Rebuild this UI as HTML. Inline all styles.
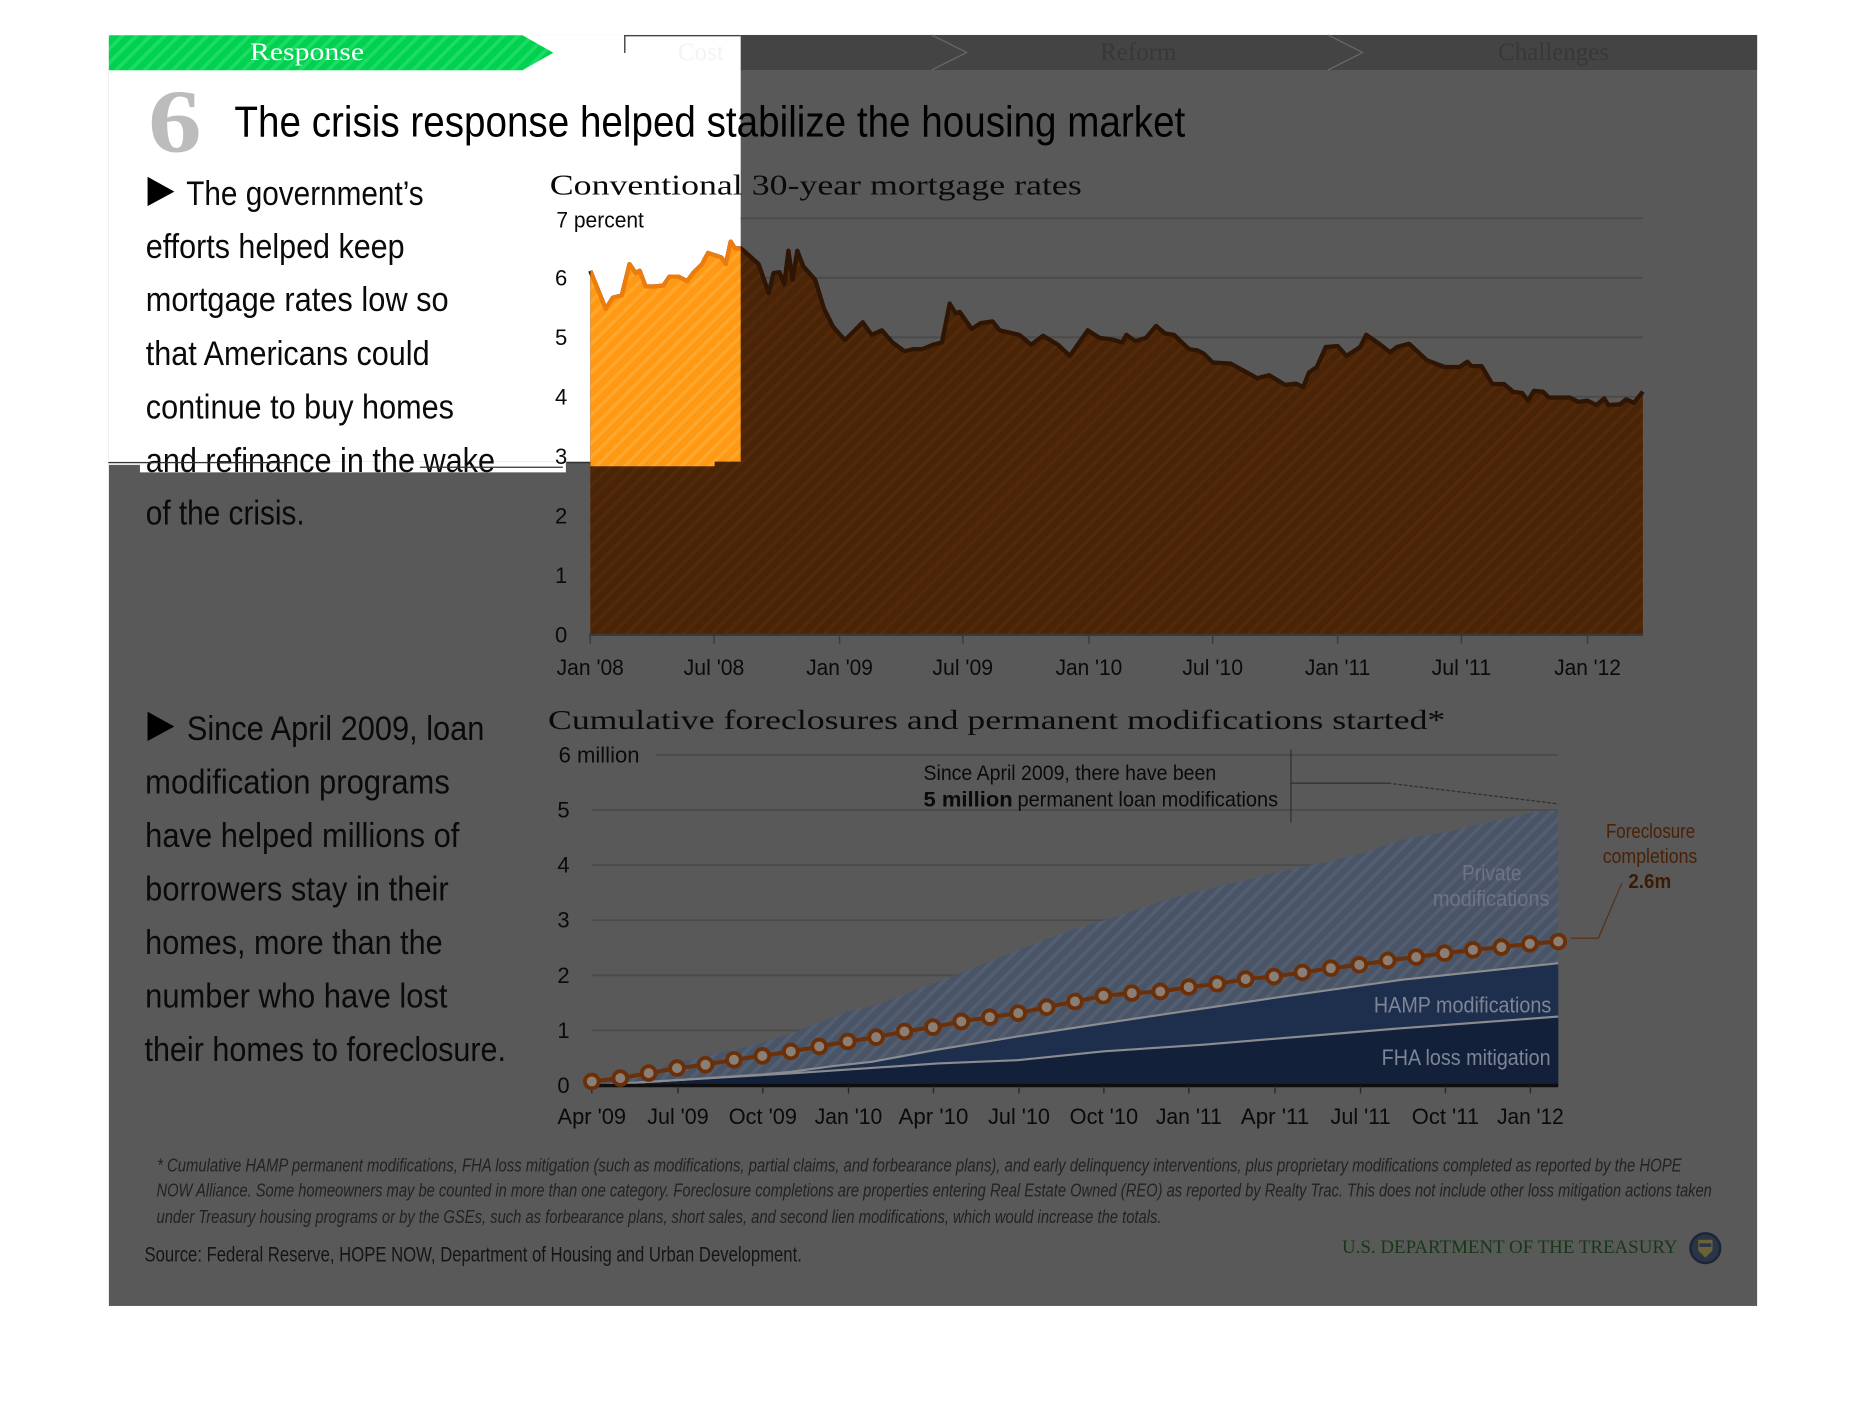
<!DOCTYPE html>
<html><head><meta charset="utf-8"><style>html,body{margin:0;padding:0;background:#fff}svg{display:block}
.s{font-family:"Liberation Sans Narrow","Liberation Sans",sans-serif}
.r{font-family:"Liberation Serif",serif}</style></head><body>
<svg width="1866" height="1404" viewBox="0 0 1568 1180" preserveAspectRatio="none" xmlns="http://www.w3.org/2000/svg">
<defs>
<pattern id="pOr" width="8.4" height="8.4" patternUnits="userSpaceOnUse" patternTransform="rotate(45)"><rect width="8.4" height="8.4" fill="#ff9812"/><rect width="3" height="8.4" fill="#ffa62c"/></pattern>
<pattern id="pBr" width="8.4" height="8.4" patternUnits="userSpaceOnUse" patternTransform="rotate(45)"><rect width="8.4" height="8.4" fill="#4a2406"/><rect width="3" height="8.4" fill="#52290a"/></pattern>
<pattern id="pGr" width="8.4" height="8.4" patternUnits="userSpaceOnUse" patternTransform="rotate(45)"><rect width="8.4" height="8.4" fill="#00d24f"/><rect width="3" height="8.4" fill="#1cdc66"/></pattern>
<pattern id="pBl" width="8.4" height="8.4" patternUnits="userSpaceOnUse" patternTransform="rotate(45)"><rect width="8.4" height="8.4" fill="#4a5467"/><rect width="3" height="8.4" fill="#535e71"/></pattern>
<clipPath id="hl"><rect x="496" y="0" width="126.4" height="388"/><rect x="496" y="388" width="104.5" height="4"/></clipPath>
<clipPath id="costc"><rect x="524.4" y="29.4" width="98" height="29.4"/></clipPath>
</defs>
<rect x="0" y="0" width="1568" height="1180" fill="#fff"/>
<!-- gray panel -->
<rect x="91.5" y="29.4" width="1385" height="1068.2" fill="#595959"/>
<!-- nav bar -->
<rect x="524.4" y="29.4" width="952.1" height="29.4" fill="#444"/>
<polyline points="783,29.4 812.3,44.1 783,58.8" fill="none" stroke="#6a6a6a" stroke-width="1"/>
<polyline points="1116,29.4 1145,44.1 1116,58.8" fill="none" stroke="#6a6a6a" stroke-width="1"/>
<text class="r" x="589" y="50.4" font-size="21" fill="#383838" text-anchor="middle">Cost</text>
<text class="r" x="956.5" y="50.4" font-size="21" fill="#383838" text-anchor="middle">Reform</text>
<text class="r" x="1305.5" y="50.4" font-size="21" fill="#383838" text-anchor="middle">Challenges</text>
<!-- white highlight -->
<rect x="91.5" y="29.4" width="530.9" height="358.6" fill="#fff"/>
<rect x="91.5" y="388" width="26.1" height="2.7" fill="#fff"/>
<rect x="117.6" y="388" width="357.9" height="9" fill="#fff"/>
<line x1="524.4" y1="30" x2="622.4" y2="30" stroke="#444" stroke-width="1.2"/>
<line x1="525" y1="29.4" x2="525" y2="44.5" stroke="#444" stroke-width="1.2"/>
<text class="r" x="589" y="50.4" font-size="21" fill="#f3f3f3" text-anchor="middle" clip-path="url(#costc)">Cost</text>
<!-- green banner -->
<polygon points="91.5,29.6 439,29.6 465,44.3 439,59 91.5,59" fill="url(#pGr)"/>
<text class="r" x="258" y="50.6" font-size="21" fill="#fff" text-anchor="middle" textLength="96" lengthAdjust="spacingAndGlyphs">Response</text>
<!-- big 6 and title -->
<text class="r" x="124.5" y="127.5" font-size="76" font-weight="bold" fill="#bcbcbc" textLength="45" lengthAdjust="spacingAndGlyphs">6</text>
<text class="s" x="197" y="114.7" font-size="36.5" fill="#000" textLength="799" lengthAdjust="spacingAndGlyphs">The crisis response helped stabilize the housing market</text>
<!-- paragraph 1 -->
<g class="s" font-size="29" fill="#0a0a0a">
<polygon points="124,148.6 146.5,161 124,173.2" fill="#000"/>
<text x="156.5" y="172.3" textLength="199.5" lengthAdjust="spacingAndGlyphs">The government’s</text>
<text x="122.5" y="216.8" textLength="217.5" lengthAdjust="spacingAndGlyphs">efforts helped keep</text>
<text x="122.5" y="261.5" textLength="254.5" lengthAdjust="spacingAndGlyphs">mortgage rates low so</text>
<text x="122.5" y="306.6" textLength="238.5" lengthAdjust="spacingAndGlyphs">that Americans could</text>
<text x="122.5" y="351.7" textLength="259" lengthAdjust="spacingAndGlyphs">continue to buy homes</text>
<text x="122.5" y="396.9" textLength="293.5" lengthAdjust="spacingAndGlyphs">and refinance in the wake</text>
<text x="122.5" y="441" textLength="133.5" lengthAdjust="spacingAndGlyphs">of the crisis.</text>
</g>
<line x1="91" y1="388.8" x2="245" y2="388.8" stroke="#333" stroke-width="1"/>
<line x1="476.6" y1="388.8" x2="600.4" y2="388.8" stroke="#333" stroke-width="1"/>
<line x1="352.8" y1="392.7" x2="473" y2="392.7" stroke="#333" stroke-width="1"/>
<!-- paragraph 2 -->
<g class="s" font-size="29" fill="#0a0a0a">
<polygon points="124,598.2 146.5,610.6 124,622.8" fill="#000"/>
<text x="157" y="621.8" textLength="250" lengthAdjust="spacingAndGlyphs">Since April 2009, loan</text>
<text x="122" y="666.8" textLength="256" lengthAdjust="spacingAndGlyphs">modification programs</text>
<text x="122" y="711.8" textLength="264" lengthAdjust="spacingAndGlyphs">have helped millions of</text>
<text x="122" y="756.8" textLength="255" lengthAdjust="spacingAndGlyphs">borrowers stay in their</text>
<text x="122" y="801.8" textLength="250" lengthAdjust="spacingAndGlyphs">homes, more than the</text>
<text x="122" y="846.8" textLength="254" lengthAdjust="spacingAndGlyphs">number who have lost</text>
<text x="121.4" y="891.8" textLength="303.8" lengthAdjust="spacingAndGlyphs">their homes to foreclosure.</text>
</g>
<!-- CHART 1 -->
<text class="r" x="462" y="163.6" font-size="24" fill="#0a0a0a" textLength="447" lengthAdjust="spacingAndGlyphs">Conventional 30-year mortgage rates</text>
<g stroke="#4a4a4a" stroke-width="1.5">
<line x1="622.4" y1="183.5" x2="1380.5" y2="183.5"/>
<line x1="622.4" y1="233.5" x2="1380.5" y2="233.5"/>
<line x1="622.4" y1="283.5" x2="1380.5" y2="283.5"/>
<line x1="622.4" y1="333.5" x2="1380.5" y2="333.5"/>
</g>
<g class="s" font-size="18.5" fill="#0a0a0a" text-anchor="middle">
<text x="504.3" y="191.1" textLength="73.5" lengthAdjust="spacingAndGlyphs">7 percent</text>
<text x="471.5" y="240.1">6</text>
<text x="471.5" y="290.1">5</text>
<text x="471.5" y="340.1">4</text>
<text x="471.5" y="390.1">3</text>
<text x="471.5" y="440.1">2</text>
<text x="471.5" y="490.1">1</text>
<text x="471.5" y="540.1">0</text>
</g>
<path d="M496,533.5 L496,227.6 509,259.6 515,250.2 522.5,248.3 529,222 534,229.5 537.5,227.6 542.5,240.8 550,240.8 557.5,240 562.5,232.5 570,232.5 577.5,236.3 582.5,229.5 590,222 595,212.6 600,214.4 606,216.3 610,222 614,203.1 617.5,208.8 622.5,208.8 625,210.7 637.5,222 646,246.4 650,229.5 655,228.7 659,238.9 662.5,210.7 666,235.1 670,210.7 675,223.8 685,235.1 692.5,259.6 700,274.6 710,285.9 717.5,278.4 725,270.9 732.5,281.4 741,277.6 750,287.8 760,295.3 767.5,293.4 775,293.4 784,289.7 791.5,287.8 798,255.1 803,263.3 806.5,262.2 816.5,276.5 824,271.6 834,270.1 840,277.6 856.5,281.4 866.5,289.7 876.5,282.2 889,289.7 899,299.1 914,277.6 924,284 934,285.2 943,287.8 946.5,281.4 954,286.7 963,284 971.5,273.9 979,280.3 986.5,281.4 999,293.4 1006.5,294.6 1011.5,297.2 1019,304.7 1034,305.5 1056.5,317.9 1066.5,315.3 1080,323.5 1089,322.4 1095,325.4 1100,313 1106.5,308.5 1114,291.6 1124,290.8 1131.5,299.1 1143,291.6 1148,281.4 1159,288.9 1168,296.1 1174,291.6 1184,288.9 1199,302.8 1214,308.5 1226.5,308.5 1233,304 1236.5,307.7 1245,307.7 1254,322.8 1264,322.8 1271.5,329.2 1279,330.3 1284,336.7 1289,328.4 1296.5,329.2 1301.5,334.1 1319,334.1 1326.5,337.8 1334,336.7 1341.5,340.5 1348,334.8 1351.5,340.5 1361.5,339.7 1366.5,335.6 1373,338.6 1380.5,329.2 L1380.5,533.5 Z" fill="url(#pBr)" stroke="none"/>
<polyline points="496,227.6 509,259.6 515,250.2 522.5,248.3 529,222 534,229.5 537.5,227.6 542.5,240.8 550,240.8 557.5,240 562.5,232.5 570,232.5 577.5,236.3 582.5,229.5 590,222 595,212.6 600,214.4 606,216.3 610,222 614,203.1 617.5,208.8 622.5,208.8 625,210.7 637.5,222 646,246.4 650,229.5 655,228.7 659,238.9 662.5,210.7 666,235.1 670,210.7 675,223.8 685,235.1 692.5,259.6 700,274.6 710,285.9 717.5,278.4 725,270.9 732.5,281.4 741,277.6 750,287.8 760,295.3 767.5,293.4 775,293.4 784,289.7 791.5,287.8 798,255.1 803,263.3 806.5,262.2 816.5,276.5 824,271.6 834,270.1 840,277.6 856.5,281.4 866.5,289.7 876.5,282.2 889,289.7 899,299.1 914,277.6 924,284 934,285.2 943,287.8 946.5,281.4 954,286.7 963,284 971.5,273.9 979,280.3 986.5,281.4 999,293.4 1006.5,294.6 1011.5,297.2 1019,304.7 1034,305.5 1056.5,317.9 1066.5,315.3 1080,323.5 1089,322.4 1095,325.4 1100,313 1106.5,308.5 1114,291.6 1124,290.8 1131.5,299.1 1143,291.6 1148,281.4 1159,288.9 1168,296.1 1174,291.6 1184,288.9 1199,302.8 1214,308.5 1226.5,308.5 1233,304 1236.5,307.7 1245,307.7 1254,322.8 1264,322.8 1271.5,329.2 1279,330.3 1284,336.7 1289,328.4 1296.5,329.2 1301.5,334.1 1319,334.1 1326.5,337.8 1334,336.7 1341.5,340.5 1348,334.8 1351.5,340.5 1361.5,339.7 1366.5,335.6 1373,338.6 1380.5,329.2" fill="none" stroke="#2e1504" stroke-width="3.6" stroke-linejoin="round"/>
<g clip-path="url(#hl)">
<path d="M496,533.5 L496,227.6 509,259.6 515,250.2 522.5,248.3 529,222 534,229.5 537.5,227.6 542.5,240.8 550,240.8 557.5,240 562.5,232.5 570,232.5 577.5,236.3 582.5,229.5 590,222 595,212.6 600,214.4 606,216.3 610,222 614,203.1 617.5,208.8 622.5,208.8 625,210.7 L625,533.5 Z" fill="url(#pOr)"/>
<polyline points="496,227.6 509,259.6 515,250.2 522.5,248.3 529,222 534,229.5 537.5,227.6 542.5,240.8 550,240.8 557.5,240 562.5,232.5 570,232.5 577.5,236.3 582.5,229.5 590,222 595,212.6 600,214.4 606,216.3 610,222 614,203.1 617.5,208.8 622.5,208.8 625,210.7" fill="none" stroke="#ec7c0c" stroke-width="3.6" stroke-linejoin="round"/>
</g>
<line x1="495" y1="533.5" x2="1380.5" y2="533.5" stroke="#3a3a3a" stroke-width="2"/>
<g stroke="#3a3a3a" stroke-width="1.2">
<line x1="496" y1="533.5" x2="496" y2="541"/><line x1="600" y1="533.5" x2="600" y2="541"/><line x1="705.5" y1="533.5" x2="705.5" y2="541"/><line x1="809" y1="533.5" x2="809" y2="541"/><line x1="915" y1="533.5" x2="915" y2="541"/><line x1="1019" y1="533.5" x2="1019" y2="541"/><line x1="1124" y1="533.5" x2="1124" y2="541"/><line x1="1228" y1="533.5" x2="1228" y2="541"/><line x1="1334" y1="533.5" x2="1334" y2="541"/>
</g>
<g class="s" font-size="19" fill="#0a0a0a" text-anchor="middle">
<text x="496" y="567.3" textLength="56.5" lengthAdjust="spacingAndGlyphs">Jan '08</text>
<text x="600" y="567.3" textLength="51" lengthAdjust="spacingAndGlyphs">Jul '08</text>
<text x="705.5" y="567.3" textLength="56" lengthAdjust="spacingAndGlyphs">Jan '09</text>
<text x="809" y="567.3" textLength="51" lengthAdjust="spacingAndGlyphs">Jul '09</text>
<text x="915" y="567.3" textLength="56" lengthAdjust="spacingAndGlyphs">Jan '10</text>
<text x="1019" y="567.3" textLength="51" lengthAdjust="spacingAndGlyphs">Jul '10</text>
<text x="1124" y="567.3" textLength="55" lengthAdjust="spacingAndGlyphs">Jan '11</text>
<text x="1228" y="567.3" textLength="50" lengthAdjust="spacingAndGlyphs">Jul '11</text>
<text x="1334" y="567.3" textLength="56" lengthAdjust="spacingAndGlyphs">Jan '12</text>
</g>
<!-- CHART 2 -->
<text class="r" x="460.5" y="612.8" font-size="23" fill="#0a0a0a" textLength="754" lengthAdjust="spacingAndGlyphs">Cumulative foreclosures and permanent modifications started*</text>
<g stroke="#4b4b4b" stroke-width="1.5">
<line x1="551.3" y1="634.5" x2="1309.4" y2="634.5"/>
<line x1="497.3" y1="680.8" x2="1309.4" y2="680.8"/>
<line x1="497.3" y1="727.1" x2="1309.4" y2="727.1"/>
<line x1="497.3" y1="773.4" x2="1309.4" y2="773.4"/>
<line x1="497.3" y1="819.7" x2="1309.4" y2="819.7"/>
<line x1="497.3" y1="866" x2="1309.4" y2="866"/>
</g>
<g class="s" font-size="18.5" fill="#0a0a0a" text-anchor="middle">
<text x="503.4" y="641" textLength="68" lengthAdjust="spacingAndGlyphs">6 million</text>
<text x="473.5" y="687.1">5</text>
<text x="473.5" y="733.4">4</text>
<text x="473.5" y="779.7">3</text>
<text x="473.5" y="826">2</text>
<text x="473.5" y="872.3">1</text>
<text x="473.5" y="918.6">0</text>
</g>
<path d="M497.3,912.3 L497.3,911.4 569.7,892.9 641,876.2 665.6,868.3 713,849.8 732.5,846.1 784.4,826.6 799.4,820.6 856.3,798.4 899.7,781.7 927.6,773.4 988.9,753.4 1071.4,733.6 1143.3,717.9 1178.4,705.8 1214.6,699.3 1289.9,682.2 1309.4,680.8 L1309.4,912.3 Z" fill="url(#pBl)"/>
<path d="M497.3,912.3 L569.7,907.7 641,903 665.6,900.7 700,896 732.5,892.4 787.5,882.2 855.1,871.1 927.6,860 1011.3,847.5 1066.9,839.2 1178.4,823.4 1309.4,809.5 L1309.4,912.3 Z" fill="#1d2f4d"/>
<path d="M497.3,912.3 L569.7,907.7 665.6,902.1 788,893.8 855.1,891 927.6,883.6 1011.3,878 1178.4,864.1 1309.4,854.4 L1309.4,912.3 Z" fill="#13203a"/>
<polyline points="497.3,912.3 569.7,907.7 641,903 665.6,900.7 700,896 732.5,892.4 787.5,882.2 855.1,871.1 927.6,860 1011.3,847.5 1066.9,839.2 1178.4,823.4 1309.4,809.5" fill="none" stroke="#8a8c90" stroke-width="1.8"/>
<polyline points="497.3,912.3 569.7,907.7 665.6,902.1 788,893.8 855.1,891 927.6,883.6 1011.3,878 1178.4,864.1 1309.4,854.4" fill="none" stroke="#8a8c90" stroke-width="1.8"/>
<g class="s" font-size="18.5" text-anchor="middle" fill="#6c7487">
<text x="1253.5" y="740" textLength="50" lengthAdjust="spacingAndGlyphs">Private</text>
<text x="1253" y="761.3" textLength="98" lengthAdjust="spacingAndGlyphs">modifications</text>
</g>
<g class="s" font-size="18.5" text-anchor="end" fill="#7e8595">
<text x="1303.5" y="851" textLength="149" lengthAdjust="spacingAndGlyphs">HAMP modifications</text>
<text x="1303" y="895" textLength="142" lengthAdjust="spacingAndGlyphs">FHA loss mitigation</text>
</g>
<line x1="496" y1="912.3" x2="1309.4" y2="912.3" stroke="#0e0e0e" stroke-width="3"/>
<g stroke="#2a2a2a" stroke-width="1.2">
<line x1="497.3" y1="913" x2="497.3" y2="919"/><line x1="569.7" y1="913" x2="569.7" y2="919"/><line x1="641" y1="913" x2="641" y2="919"/><line x1="713" y1="913" x2="713" y2="919"/><line x1="784.4" y1="913" x2="784.4" y2="919"/><line x1="856.3" y1="913" x2="856.3" y2="919"/><line x1="927.6" y1="913" x2="927.6" y2="919"/><line x1="999" y1="913" x2="999" y2="919"/><line x1="1071.4" y1="913" x2="1071.4" y2="919"/><line x1="1143.3" y1="913" x2="1143.3" y2="919"/><line x1="1214.6" y1="913" x2="1214.6" y2="919"/><line x1="1286" y1="913" x2="1286" y2="919"/>
</g>
<g class="s" font-size="19" fill="#0a0a0a" text-anchor="middle">
<text x="497.3" y="944.8" textLength="57.6" lengthAdjust="spacingAndGlyphs">Apr '09</text>
<text x="569.7" y="944.8" textLength="51.6" lengthAdjust="spacingAndGlyphs">Jul '09</text>
<text x="641" y="944.8" textLength="57.3" lengthAdjust="spacingAndGlyphs">Oct '09</text>
<text x="713" y="944.8" textLength="56.8" lengthAdjust="spacingAndGlyphs">Jan '10</text>
<text x="784.4" y="944.8" textLength="58.7" lengthAdjust="spacingAndGlyphs">Apr '10</text>
<text x="856.3" y="944.8" textLength="52" lengthAdjust="spacingAndGlyphs">Jul '10</text>
<text x="927.6" y="944.8" textLength="57.5" lengthAdjust="spacingAndGlyphs">Oct '10</text>
<text x="999" y="944.8" textLength="55.5" lengthAdjust="spacingAndGlyphs">Jan '11</text>
<text x="1071.4" y="944.8" textLength="57.5" lengthAdjust="spacingAndGlyphs">Apr '11</text>
<text x="1143.3" y="944.8" textLength="50.5" lengthAdjust="spacingAndGlyphs">Jul '11</text>
<text x="1214.6" y="944.8" textLength="56.5" lengthAdjust="spacingAndGlyphs">Oct '11</text>
<text x="1286" y="944.8" textLength="56" lengthAdjust="spacingAndGlyphs">Jan '12</text>
</g>
<polyline points="497.3,908.9 521.2,906.1 545.1,901.9 568.9,897.7 592.8,894.9 616.7,890.7 640.6,887.4 664.5,883.7 688.4,879.5 712.3,875.3 736.2,871.7 760,866.9 783.9,863.3 807.8,858.5 831.7,854.9 855.6,851.5 879.5,846.5 903.3,841.7 927.2,836.9 951.1,834.7 975,833.3 998.9,829.6 1022.8,826.8 1046.7,822.9 1070.5,820.7 1094.4,817.3 1118.3,813.7 1142.2,810.9 1166.1,807.2 1190,804.4 1213.9,801.1 1237.7,798.3 1261.6,796 1285.5,793.2 1309.4,791.3" fill="none" stroke="#6b3008" stroke-width="3.4"/>
<g fill="#8a7f77" stroke="#6b3008" stroke-width="3.2">
<circle cx="497.3" cy="908.9" r="5.8"/><circle cx="521.2" cy="906.1" r="5.8"/><circle cx="545.1" cy="901.9" r="5.8"/><circle cx="568.9" cy="897.7" r="5.8"/><circle cx="592.8" cy="894.9" r="5.8"/><circle cx="616.7" cy="890.7" r="5.8"/><circle cx="640.6" cy="887.4" r="5.8"/><circle cx="664.5" cy="883.7" r="5.8"/><circle cx="688.4" cy="879.5" r="5.8"/><circle cx="712.3" cy="875.3" r="5.8"/><circle cx="736.2" cy="871.7" r="5.8"/><circle cx="760" cy="866.9" r="5.8"/><circle cx="783.9" cy="863.3" r="5.8"/><circle cx="807.8" cy="858.5" r="5.8"/><circle cx="831.7" cy="854.9" r="5.8"/><circle cx="855.6" cy="851.5" r="5.8"/><circle cx="879.5" cy="846.5" r="5.8"/><circle cx="903.3" cy="841.7" r="5.8"/><circle cx="927.2" cy="836.9" r="5.8"/><circle cx="951.1" cy="834.7" r="5.8"/><circle cx="975" cy="833.3" r="5.8"/><circle cx="998.9" cy="829.6" r="5.8"/><circle cx="1022.8" cy="826.8" r="5.8"/><circle cx="1046.7" cy="822.9" r="5.8"/><circle cx="1070.5" cy="820.7" r="5.8"/><circle cx="1094.4" cy="817.3" r="5.8"/><circle cx="1118.3" cy="813.7" r="5.8"/><circle cx="1142.2" cy="810.9" r="5.8"/><circle cx="1166.1" cy="807.2" r="5.8"/><circle cx="1190" cy="804.4" r="5.8"/><circle cx="1213.9" cy="801.1" r="5.8"/><circle cx="1237.7" cy="798.3" r="5.8"/><circle cx="1261.6" cy="796" r="5.8"/><circle cx="1285.5" cy="793.2" r="5.8"/><circle cx="1309.4" cy="791.3" r="5.8"/>
</g>
<g class="s" font-size="17" text-anchor="middle" fill="#4a2108">
<text x="1387" y="704.5" textLength="75" lengthAdjust="spacingAndGlyphs">Foreclosure</text>
<text x="1386.5" y="725.5" textLength="79.5" lengthAdjust="spacingAndGlyphs">completions</text>
<text x="1386.3" y="746.5" font-weight="bold" fill="#3c1a05" textLength="36" lengthAdjust="spacingAndGlyphs">2.6m</text>
</g>
<polyline points="1362.8,742.3 1343.1,788.5 1320,788.5" fill="none" stroke="#5a2a0a" stroke-width="0.9"/>
<!-- annotation -->
<line x1="1084.8" y1="630" x2="1084.8" y2="691.3" stroke="#2e2e2e" stroke-width="1"/>
<line x1="1084.8" y1="658.2" x2="1166.2" y2="658.2" stroke="#2e2e2e" stroke-width="1"/>
<line x1="1166.2" y1="658.2" x2="1309.4" y2="675.6" stroke="#2e2e2e" stroke-width="1" stroke-dasharray="3,1.5"/>
<g class="s" font-size="18" fill="#0a0a0a">
<text x="776" y="655.4" textLength="246" lengthAdjust="spacingAndGlyphs">Since April 2009, there have been</text>
<text x="776" y="677.8" font-weight="bold" textLength="75" lengthAdjust="spacingAndGlyphs">5 million</text>
<text x="855" y="677.8" textLength="219" lengthAdjust="spacingAndGlyphs">permanent loan modifications</text>
</g>
<g class="s" font-size="17.5" fill="#222">
<text x="132" y="984.6" font-style="italic" font-size="15.5" textLength="1281" lengthAdjust="spacingAndGlyphs">* Cumulative HAMP permanent modifications, FHA loss mitigation (such as modifications, partial claims, and forbearance plans), and early delinquency interventions, plus proprietary modifications completed as reported by the HOPE</text>
<text x="131.5" y="1005.6" font-style="italic" font-size="15.5" textLength="1307" lengthAdjust="spacingAndGlyphs">NOW Alliance. Some homeowners may be counted in more than one category. Foreclosure completions are properties entering Real Estate Owned (REO) as reported by Realty Trac. This does not include other loss mitigation actions taken</text>
<text x="131.5" y="1028" font-style="italic" font-size="15.5" textLength="844.5" lengthAdjust="spacingAndGlyphs">under Treasury housing programs  or by the GSEs, such as forbearance plans, short sales, and second lien modifications, which would increase the totals.</text>
<text x="121.4" y="1060.2" fill="#151515" textLength="552.4" lengthAdjust="spacingAndGlyphs">Source: Federal Reserve, HOPE NOW, Department of Housing and Urban Development.</text>
</g>
<text class="r" x="1127.7" y="1053" font-size="16" fill="#163816" textLength="282" lengthAdjust="spacingAndGlyphs">U.S. DEPARTMENT OF THE TREASURY</text>
<circle cx="1433" cy="1049" r="12.5" fill="#2a3548" stroke="#1b2536" stroke-width="2"/>
<path d="M1427,1042 L1439,1042 L1439,1051 L1433,1057 L1427,1051 Z" fill="#6b6238"/>
<rect x="1428" y="1045" width="10" height="3" fill="#2a3548"/>
</svg>
</body></html>
